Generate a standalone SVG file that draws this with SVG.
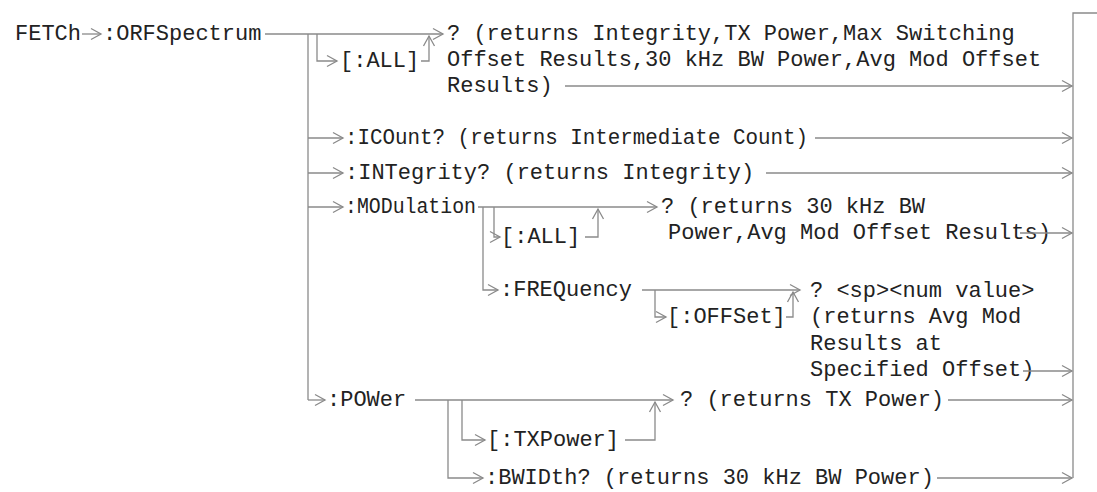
<svg xmlns="http://www.w3.org/2000/svg" width="1097" height="492" viewBox="0 0 1097 492">
<style>
text{font-family:"Liberation Mono","Courier New",monospace;font-size:22px;fill:#222}
.c line,.c polyline{stroke:#8a8a8a;stroke-width:1.3;fill:none}
.a{marker-end:url(#ah)}
</style>
<defs>
<marker id="ah" markerUnits="userSpaceOnUse" markerWidth="14" markerHeight="14" viewBox="-11 -7 14 14" refX="0" refY="0" orient="auto">
<path d="M-10,-5.5 L0,0 L-10,5.5" fill="none" stroke="#8a8a8a" stroke-width="1.3"/>
</marker>
</defs>
<rect width="1097" height="492" fill="#fff"/>
<g id="n-fetch"><text x="15" y="40">FETCh</text></g>
<g id="n-orf"><text x="103" y="40">:ORFSpectrum</text></g>
<g id="n-orf-all"><text x="340" y="67">[:ALL]</text></g>
<g id="n-orf-q"><text x="447" y="40">? (returns Integrity,TX Power,Max Switching</text><text x="447" y="66">Offset Results,30 kHz BW Power,Avg Mod Offset</text><text x="447" y="92">Results)</text></g>
<g id="n-icount"><text x="345" y="144" textLength="463" lengthAdjust="spacingAndGlyphs">:ICOunt? (returns Intermediate Count)</text></g>
<g id="n-integrity"><text x="345" y="179">:INTegrity? (returns Integrity)</text></g>
<g id="n-mod"><text x="345" y="213" textLength="131" lengthAdjust="spacingAndGlyphs">:MODulation</text></g>
<g id="n-mod-all"><text x="501" y="243">[:ALL]</text></g>
<g id="n-mod-q"><text x="661" y="213">? (returns 30 kHz BW</text><text x="668" y="239">Power,Avg Mod Offset Results)</text></g>
<g id="n-freq"><text x="500" y="296">:FREQuency</text></g>
<g id="n-offset"><text x="667" y="323">[:OFFSet]</text></g>
<g id="n-freq-q"><text x="810" y="297">? &lt;sp&gt;&lt;num value&gt;</text><text x="810" y="323">(returns Avg Mod</text><text x="810" y="350">Results at</text><text x="810" y="376">Specified Offset)</text></g>
<g id="n-power"><text x="327" y="406">:POWer</text></g>
<g id="n-txpower"><text x="487" y="446">[:TXPower]</text></g>
<g id="n-power-q"><text x="680" y="406">? (returns TX Power)</text></g>
<g id="n-bwidth"><text x="485" y="484">:BWIDth? (returns 30 kHz BW Power)</text></g>
<g id="connectors" class="c">
<line class="a" x1="82" y1="34" x2="101" y2="34"/>
<line class="a" x1="265" y1="34" x2="443" y2="34"/>
<line x1="308" y1="34" x2="308" y2="400"/>
<polyline class="a" points="317,34 317,61 337,61"/>
<polyline class="a" points="421,61 429,61 429,36"/>
<line class="a" x1="565" y1="86" x2="1072" y2="86"/>
<polyline points="1073,478 1073,13 1097,13"/>
<line class="a" x1="308" y1="138" x2="343" y2="138"/>
<line class="a" x1="815" y1="138" x2="1072" y2="138"/>
<line class="a" x1="308" y1="173" x2="343" y2="173"/>
<line class="a" x1="766" y1="173" x2="1072" y2="173"/>
<line class="a" x1="308" y1="207" x2="343" y2="207"/>
<line class="a" x1="478" y1="207" x2="657" y2="207"/>
<polyline class="a" points="494,207 494,237 500,237"/>
<polyline class="a" points="585,237 598,237 598,209"/>
<line class="a" x1="1020" y1="233" x2="1072" y2="233"/>
<polyline class="a" points="483,207 483,290 498,290"/>
<line class="a" x1="642" y1="290" x2="800" y2="290"/>
<polyline class="a" points="655,290 655,317 666,317"/>
<polyline class="a" points="786,317 793,317 793,292"/>
<line class="a" x1="1023" y1="371" x2="1072" y2="371"/>
<polyline class="a" points="308,400 325,400"/>
<line class="a" x1="415" y1="400" x2="673" y2="400"/>
<polyline class="a" points="462,400 462,440 485,440"/>
<polyline class="a" points="625,440 655,440 655,402"/>
<line class="a" x1="948" y1="400" x2="1072" y2="400"/>
<polyline class="a" points="448,400 448,478 483,478"/>
<line class="a" x1="937" y1="478" x2="1072" y2="478"/>
</g>
</svg>
